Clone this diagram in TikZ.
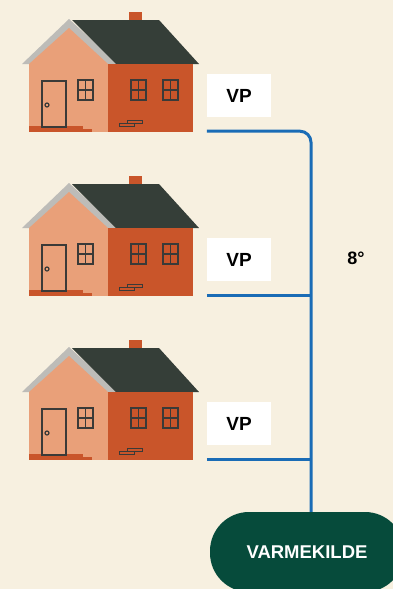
\documentclass[tikz,border=0pt]{standalone}
\usepackage{fontspec}
\setmainfont{Liberation Sans}
\usetikzlibrary{positioning}
\definecolor{bakgrunn}{HTML}{F7F0E0}
\definecolor{gavl}{HTML}{E9A079}
\definecolor{mur}{HTML}{C9552A}
\definecolor{tak}{HTML}{353E38}
\definecolor{takkant}{HTML}{BDBCB8}
\definecolor{strek}{HTML}{3A3A38}
\definecolor{ror}{HTML}{1A6CB6}
\definecolor{kildefarge}{HTML}{064B3B}

\begin{document}
\begin{tikzpicture}[
	x=1pt, y=-1pt,
	VPboks/.style={fill=white, minimum width=64pt, minimum height=43pt,
		inner sep=0pt, font=\fontsize{19}{20}\selectfont\bfseries},
	KildeBoks/.style={fill=kildefarge, text=white, minimum width=194pt,
		minimum height=80pt, rounded corners=39pt,
		font=\fontsize{18.5}{20}\selectfont\bfseries},
	Ror/.style={draw=ror, line width=3pt},
	Vindu/.style={draw=strek, line width=1.4pt},
	]
	\fill[bakgrunn] (0,0) rectangle (393,589);
	\clip (0,0) rectangle (393,589);
	
	% tre hus med varmepumpe
	\foreach \i/\o in {1/0,2/164,3/328}{
	\begin{scope}[shift={(0,\o)}]
	\fill[mur] (129,12) rectangle (142,21);
	\fill[takkant] (22,64) -- (69,19) -- (118,64) -- cycle;
	\fill[tak] (72,20) -- (159,20) -- (199,64) -- (116,64) -- cycle;
	\fill[gavl] (29,64) -- (69,28) -- (108,64) -- cycle;
	\fill[gavl] (29,63.5) rectangle (108,132);
	\fill[mur] (108,64) rectangle (193,132);
	% dor og trapp
	\fill[mur] (29,126) rectangle (83,132);
	\fill[mur] (83,129) rectangle (92,132);
	\draw[Vindu] (42,81) rectangle (66,127);
	\draw[strek, line width=1.2pt] (47,105) circle (2);
	% vinduer
	\foreach \x in {78,131,163}{
		\draw[Vindu] (\x,80) rectangle +(15,20);
		\draw[Vindu] (\x+7.5,80) -- +(0,20);
		\draw[Vindu] (\x,90) -- +(15,0);
	}
	\draw[strek, line width=1pt] (127,120.5) rectangle (142,123.5);
	\draw[strek, line width=1pt] (119,123.5) rectangle (134,126.5);
	\node[VPboks] (vp\i) at (239,95.5) {VP};
	\coordinate[below=14pt of vp\i.south west] (r\i);
	\end{scope}
	}
	
	\node[KildeBoks] (kilde) at (307,552) {VARMEKILDE};
	\coordinate (stamme) at (311,0);
	\draw[Ror, rounded corners=11pt] (r1) -| (stamme |- kilde.north);
	\foreach \i in {2,3}
		\draw[Ror] (r\i) -- (r\i -| stamme);
	\node[font=\fontsize{18}{20}\selectfont\bfseries] (grad) at (356,258) {8°};
\end{tikzpicture}
\end{document}
